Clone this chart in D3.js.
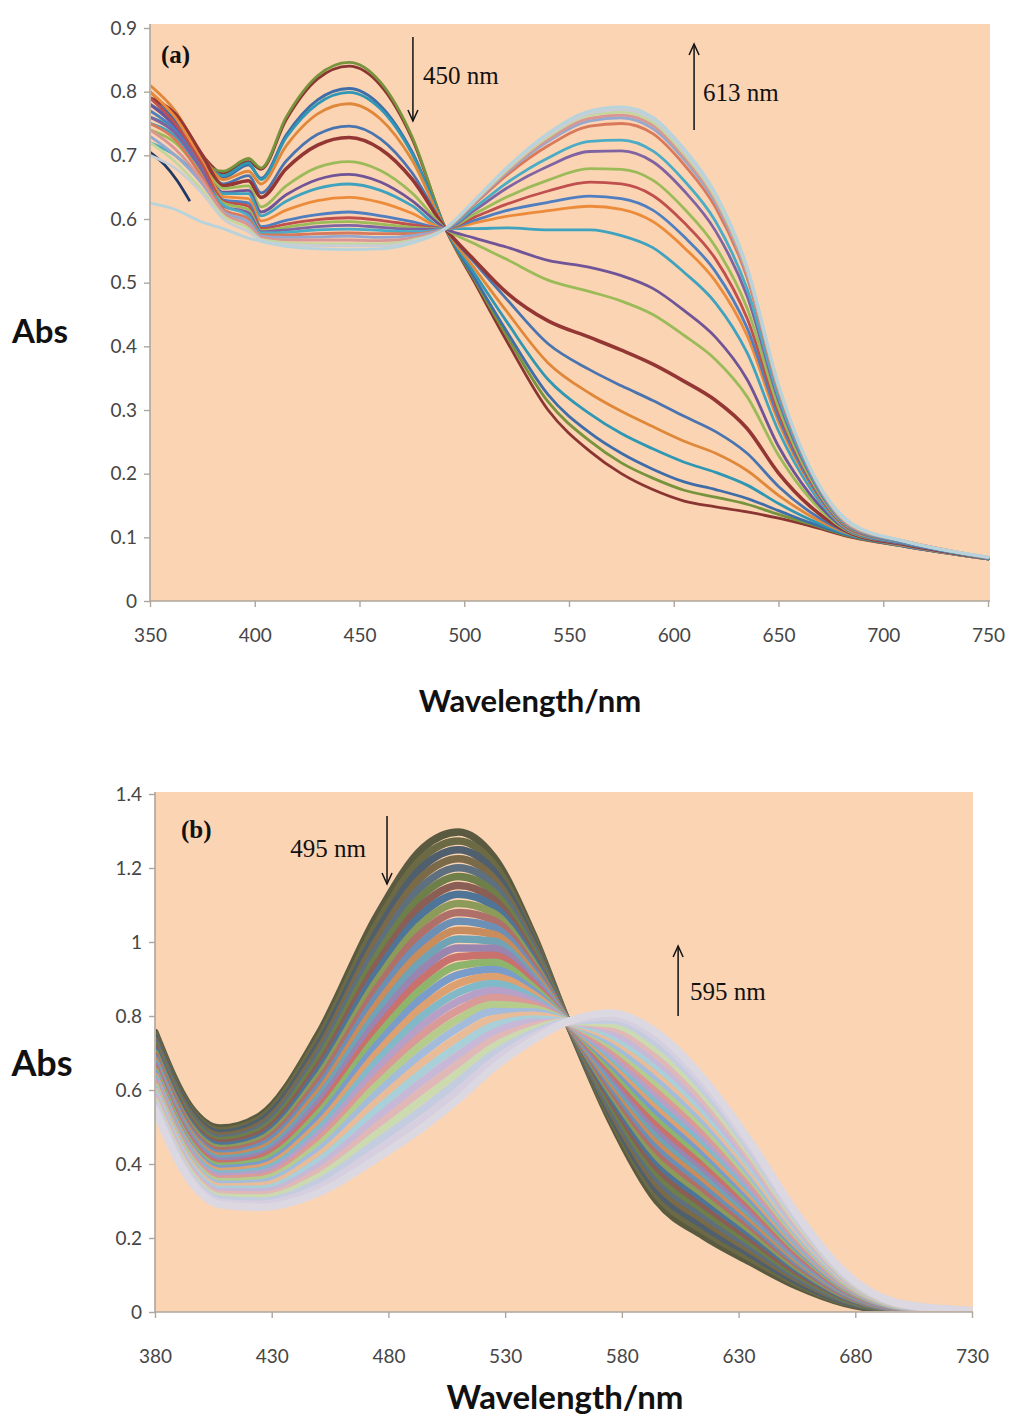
<!DOCTYPE html>
<html>
<head>
<meta charset="utf-8">
<script src="https://cdn.jsdelivr.net/npm/d3@7"></script>
<style>
  body { margin: 0; background: #ffffff; }
  svg { display: block; }
</style>
</head>
<body>
<svg id="fig" width="1010" height="1424"></svg>
<script>
// ---------- Panel (a): titration spectra, 350–750 nm ----------
const wavelengthsA = [350, 362, 375, 385, 397, 403, 415, 430, 445, 460, 475, 491, 505, 520, 540, 560, 575, 590, 605, 620, 635, 650, 665, 685, 710, 750];

const spectraA = [
  [0.80, 0.76, 0.70, 0.672, 0.69, 0.678, 0.756, 0.82, 0.84, 0.81, 0.727, 0.585, 0.50, 0.41, 0.30, 0.235, 0.20, 0.175, 0.157, 0.148, 0.14, 0.13, 0.118, 0.10, 0.086, 0.066],
  [0.78, 0.75, 0.69, 0.675, 0.695, 0.68, 0.76, 0.825, 0.846, 0.815, 0.73, 0.585, 0.504, 0.418, 0.313, 0.251, 0.217, 0.193, 0.174, 0.163, 0.152, 0.136, 0.121, 0.101, 0.086, 0.066],
  [0.79, 0.755, 0.695, 0.665, 0.685, 0.664, 0.732, 0.787, 0.805, 0.778, 0.706, 0.585, 0.507, 0.425, 0.324, 0.264, 0.232, 0.207, 0.187, 0.175, 0.161, 0.142, 0.123, 0.102, 0.086, 0.066],
  [0.76, 0.74, 0.69, 0.668, 0.688, 0.662, 0.728, 0.781, 0.799, 0.773, 0.703, 0.585, 0.514, 0.44, 0.348, 0.294, 0.263, 0.239, 0.218, 0.202, 0.182, 0.153, 0.128, 0.103, 0.087, 0.066],
  [0.81, 0.77, 0.70, 0.662, 0.675, 0.655, 0.715, 0.765, 0.781, 0.757, 0.693, 0.585, 0.522, 0.456, 0.374, 0.326, 0.298, 0.274, 0.251, 0.232, 0.205, 0.166, 0.134, 0.104, 0.087, 0.066],
  [0.78, 0.75, 0.69, 0.655, 0.668, 0.641, 0.691, 0.733, 0.746, 0.726, 0.673, 0.585, 0.531, 0.475, 0.404, 0.363, 0.338, 0.315, 0.29, 0.266, 0.232, 0.18, 0.14, 0.105, 0.088, 0.066],
  [0.79, 0.765, 0.70, 0.652, 0.66, 0.634, 0.679, 0.716, 0.728, 0.71, 0.663, 0.585, 0.535, 0.485, 0.44, 0.414, 0.394, 0.372, 0.345, 0.315, 0.271, 0.201, 0.149, 0.106, 0.089, 0.067],
  [0.77, 0.74, 0.685, 0.648, 0.652, 0.619, 0.652, 0.681, 0.69, 0.676, 0.641, 0.585, 0.561, 0.537, 0.504, 0.486, 0.471, 0.45, 0.417, 0.379, 0.321, 0.229, 0.161, 0.107, 0.09, 0.067],
  [0.78, 0.745, 0.68, 0.642, 0.645, 0.611, 0.638, 0.662, 0.67, 0.658, 0.629, 0.585, 0.57, 0.556, 0.535, 0.524, 0.511, 0.491, 0.456, 0.414, 0.348, 0.243, 0.168, 0.108, 0.09, 0.067],
  [0.75, 0.73, 0.675, 0.64, 0.64, 0.605, 0.628, 0.648, 0.655, 0.645, 0.621, 0.585, 0.585, 0.586, 0.583, 0.583, 0.574, 0.555, 0.516, 0.468, 0.39, 0.267, 0.178, 0.109, 0.091, 0.067],
  [0.80, 0.76, 0.69, 0.635, 0.632, 0.597, 0.614, 0.629, 0.634, 0.626, 0.609, 0.585, 0.594, 0.604, 0.613, 0.62, 0.615, 0.596, 0.555, 0.502, 0.417, 0.281, 0.184, 0.11, 0.092, 0.068],
  [0.77, 0.74, 0.68, 0.63, 0.625, 0.588, 0.598, 0.607, 0.611, 0.605, 0.596, 0.585, 0.598, 0.613, 0.626, 0.636, 0.632, 0.614, 0.572, 0.517, 0.429, 0.288, 0.187, 0.111, 0.092, 0.068],
  [0.79, 0.75, 0.685, 0.628, 0.62, 0.585, 0.592, 0.599, 0.602, 0.598, 0.591, 0.585, 0.603, 0.623, 0.644, 0.658, 0.655, 0.637, 0.594, 0.537, 0.444, 0.296, 0.191, 0.112, 0.093, 0.068],
  [0.74, 0.72, 0.67, 0.625, 0.615, 0.582, 0.587, 0.594, 0.596, 0.592, 0.587, 0.585, 0.608, 0.634, 0.661, 0.679, 0.678, 0.661, 0.616, 0.556, 0.46, 0.304, 0.194, 0.113, 0.093, 0.068],
  [0.76, 0.735, 0.675, 0.62, 0.61, 0.58, 0.583, 0.588, 0.59, 0.587, 0.584, 0.585, 0.614, 0.648, 0.683, 0.706, 0.707, 0.69, 0.644, 0.581, 0.479, 0.315, 0.199, 0.114, 0.093, 0.068],
  [0.72, 0.70, 0.66, 0.622, 0.605, 0.578, 0.579, 0.583, 0.584, 0.582, 0.58, 0.585, 0.618, 0.656, 0.696, 0.722, 0.724, 0.707, 0.66, 0.596, 0.49, 0.321, 0.202, 0.115, 0.093, 0.068],
  [0.75, 0.725, 0.665, 0.615, 0.60, 0.575, 0.575, 0.577, 0.578, 0.577, 0.577, 0.585, 0.624, 0.668, 0.715, 0.746, 0.75, 0.734, 0.685, 0.618, 0.508, 0.33, 0.206, 0.116, 0.094, 0.068],
  [0.73, 0.70, 0.655, 0.612, 0.595, 0.573, 0.571, 0.572, 0.573, 0.571, 0.574, 0.585, 0.626, 0.672, 0.722, 0.754, 0.759, 0.742, 0.693, 0.625, 0.513, 0.334, 0.207, 0.117, 0.094, 0.068],
  [0.74, 0.71, 0.66, 0.61, 0.59, 0.571, 0.567, 0.567, 0.567, 0.566, 0.57, 0.585, 0.627, 0.674, 0.725, 0.758, 0.763, 0.747, 0.697, 0.629, 0.516, 0.335, 0.208, 0.118, 0.094, 0.068],
  [0.72, 0.69, 0.645, 0.605, 0.585, 0.568, 0.563, 0.561, 0.561, 0.561, 0.567, 0.585, 0.628, 0.676, 0.729, 0.763, 0.768, 0.752, 0.702, 0.633, 0.52, 0.337, 0.209, 0.119, 0.094, 0.069],
  [0.70, 0.68, 0.64, 0.60, 0.58, 0.567, 0.56, 0.558, 0.558, 0.558, 0.565, 0.585, 0.629, 0.678, 0.732, 0.766, 0.772, 0.756, 0.706, 0.637, 0.522, 0.339, 0.209, 0.12, 0.094, 0.069],
  [0.625, 0.615, 0.595, 0.585, 0.57, 0.565, 0.557, 0.553, 0.552, 0.553, 0.562, 0.585, 0.63, 0.68, 0.735, 0.77, 0.776, 0.76, 0.71, 0.64, 0.525, 0.34, 0.21, 0.122, 0.094, 0.069]
];

// short trace recorded only at the start of the scan
const stubWavelengthsA = [350, 357, 363, 369];
const stubValuesA = [0.705, 0.685, 0.66, 0.628];

const xTicksA = [350, 400, 450, 500, 550, 600, 650, 700, 750];
const yTicksA = [0, 0.1, 0.2, 0.3, 0.4, 0.5, 0.6, 0.7, 0.8, 0.9];
const yTickLabelsA = ["0", "0.1", "0.2", "0.3", "0.4", "0.5", "0.6", "0.7", "0.8", "0.9"];

// ---------- Panel (b): titration spectra, 380–730 nm ----------
const wavelengthsB = [380, 395, 408, 425, 450, 475, 495, 510, 525, 542, 557, 575, 595, 615, 635, 655, 675, 700, 730];

const spectraB = [
  [0.755, 0.555, 0.497, 0.530, 0.750, 1.070, 1.255, 1.297, 1.230, 1.020, 0.780, 0.520, 0.300, 0.205, 0.135, 0.070, 0.024, 0.003, 0.000],
  [0.748, 0.548, 0.490, 0.522, 0.736, 1.048, 1.230, 1.273, 1.211, 1.011, 0.780, 0.530, 0.315, 0.219, 0.146, 0.077, 0.027, 0.004, 0.000],
  [0.741, 0.542, 0.483, 0.514, 0.721, 1.026, 1.205, 1.249, 1.192, 1.001, 0.780, 0.539, 0.330, 0.233, 0.157, 0.083, 0.030, 0.004, 0.000],
  [0.734, 0.535, 0.476, 0.505, 0.707, 1.005, 1.180, 1.225, 1.173, 0.992, 0.781, 0.549, 0.346, 0.248, 0.168, 0.090, 0.033, 0.005, 0.000],
  [0.727, 0.528, 0.469, 0.497, 0.693, 0.983, 1.154, 1.201, 1.154, 0.982, 0.781, 0.558, 0.361, 0.262, 0.178, 0.096, 0.035, 0.006, 0.000],
  [0.720, 0.522, 0.463, 0.489, 0.679, 0.961, 1.129, 1.177, 1.135, 0.973, 0.781, 0.568, 0.376, 0.276, 0.189, 0.103, 0.038, 0.006, 0.000],
  [0.713, 0.515, 0.456, 0.481, 0.664, 0.939, 1.104, 1.153, 1.116, 0.963, 0.781, 0.578, 0.391, 0.290, 0.200, 0.109, 0.041, 0.007, 0.000],
  [0.706, 0.508, 0.449, 0.472, 0.650, 0.917, 1.079, 1.129, 1.097, 0.954, 0.781, 0.587, 0.406, 0.304, 0.211, 0.116, 0.044, 0.007, 0.000],
  [0.699, 0.502, 0.442, 0.464, 0.636, 0.895, 1.054, 1.104, 1.078, 0.944, 0.781, 0.597, 0.421, 0.318, 0.222, 0.122, 0.047, 0.008, 0.001],
  [0.692, 0.495, 0.435, 0.456, 0.622, 0.874, 1.029, 1.080, 1.059, 0.935, 0.782, 0.606, 0.437, 0.333, 0.233, 0.129, 0.050, 0.009, 0.001],
  [0.685, 0.488, 0.428, 0.448, 0.607, 0.852, 1.003, 1.056, 1.040, 0.925, 0.782, 0.616, 0.452, 0.347, 0.243, 0.135, 0.053, 0.009, 0.001],
  [0.678, 0.482, 0.421, 0.439, 0.593, 0.830, 0.978, 1.032, 1.021, 0.916, 0.782, 0.626, 0.467, 0.361, 0.254, 0.142, 0.056, 0.010, 0.001],
  [0.671, 0.475, 0.414, 0.431, 0.579, 0.808, 0.953, 1.008, 1.002, 0.906, 0.782, 0.635, 0.482, 0.375, 0.265, 0.148, 0.058, 0.011, 0.001],
  [0.664, 0.468, 0.407, 0.423, 0.565, 0.786, 0.928, 0.984, 0.983, 0.897, 0.782, 0.645, 0.497, 0.389, 0.276, 0.155, 0.061, 0.011, 0.001],
  [0.657, 0.462, 0.400, 0.415, 0.550, 0.764, 0.903, 0.960, 0.964, 0.887, 0.782, 0.654, 0.512, 0.403, 0.287, 0.161, 0.064, 0.012, 0.001],
  [0.651, 0.455, 0.394, 0.407, 0.536, 0.743, 0.878, 0.936, 0.945, 0.878, 0.783, 0.664, 0.528, 0.418, 0.298, 0.168, 0.067, 0.013, 0.002],
  [0.644, 0.448, 0.387, 0.398, 0.522, 0.721, 0.852, 0.912, 0.926, 0.868, 0.783, 0.674, 0.543, 0.432, 0.308, 0.174, 0.070, 0.013, 0.002],
  [0.637, 0.442, 0.380, 0.390, 0.507, 0.699, 0.827, 0.888, 0.907, 0.859, 0.783, 0.683, 0.558, 0.446, 0.319, 0.181, 0.073, 0.014, 0.002],
  [0.630, 0.435, 0.373, 0.382, 0.493, 0.677, 0.802, 0.864, 0.888, 0.849, 0.783, 0.693, 0.573, 0.460, 0.330, 0.187, 0.076, 0.014, 0.002],
  [0.623, 0.428, 0.366, 0.374, 0.479, 0.655, 0.777, 0.840, 0.869, 0.840, 0.783, 0.702, 0.588, 0.474, 0.341, 0.194, 0.078, 0.015, 0.002],
  [0.616, 0.422, 0.359, 0.365, 0.465, 0.633, 0.752, 0.816, 0.850, 0.830, 0.783, 0.712, 0.603, 0.488, 0.352, 0.200, 0.081, 0.016, 0.002],
  [0.609, 0.415, 0.352, 0.357, 0.450, 0.612, 0.727, 0.792, 0.831, 0.821, 0.784, 0.722, 0.619, 0.503, 0.363, 0.207, 0.084, 0.016, 0.002],
  [0.602, 0.408, 0.345, 0.349, 0.436, 0.590, 0.701, 0.768, 0.812, 0.811, 0.784, 0.731, 0.634, 0.517, 0.373, 0.213, 0.087, 0.017, 0.002],
  [0.595, 0.402, 0.338, 0.341, 0.422, 0.568, 0.676, 0.743, 0.793, 0.802, 0.784, 0.741, 0.649, 0.531, 0.384, 0.220, 0.090, 0.018, 0.003],
  [0.588, 0.395, 0.331, 0.332, 0.408, 0.546, 0.651, 0.719, 0.774, 0.792, 0.784, 0.750, 0.664, 0.545, 0.395, 0.226, 0.093, 0.018, 0.003],
  [0.581, 0.388, 0.325, 0.324, 0.393, 0.524, 0.626, 0.695, 0.755, 0.783, 0.784, 0.760, 0.679, 0.559, 0.406, 0.233, 0.096, 0.019, 0.003],
  [0.574, 0.382, 0.318, 0.316, 0.379, 0.502, 0.601, 0.671, 0.736, 0.773, 0.784, 0.770, 0.694, 0.573, 0.417, 0.239, 0.099, 0.019, 0.003],
  [0.567, 0.375, 0.311, 0.308, 0.365, 0.481, 0.576, 0.647, 0.717, 0.764, 0.785, 0.779, 0.710, 0.588, 0.428, 0.246, 0.101, 0.020, 0.003],
  [0.560, 0.368, 0.304, 0.299, 0.351, 0.459, 0.550, 0.623, 0.698, 0.754, 0.785, 0.789, 0.725, 0.602, 0.438, 0.252, 0.104, 0.021, 0.003],
  [0.553, 0.362, 0.297, 0.291, 0.336, 0.437, 0.525, 0.599, 0.679, 0.745, 0.785, 0.798, 0.740, 0.616, 0.449, 0.259, 0.107, 0.021, 0.003],
  [0.546, 0.355, 0.290, 0.283, 0.322, 0.415, 0.500, 0.575, 0.660, 0.735, 0.785, 0.808, 0.755, 0.630, 0.460, 0.265, 0.110, 0.022, 0.004]
];

const xTicksB = [380, 430, 480, 530, 580, 630, 680, 730];
const yTicksB = [0, 0.2, 0.4, 0.6, 0.8, 1.0, 1.2, 1.4];
const yTickLabelsB = ["0", "0.2", "0.4", "0.6", "0.8", "1", "1.2", "1.4"];

// ---------- styling ----------
const coloursA = [
  "#8b3533", "#77933c", "#3e6da8", "#2f97b4", "#e0883a", "#4a74b0",
  "#943634", "#9bbb59", "#6f5497", "#3fa3bf", "#ec8c3b", "#4f7fc0",
  "#c0504d", "#9bbb59", "#8064a2", "#4bacc6", "#d9795b", "#93a9cf",
  "#d99694", "#c3d69b", "#c9ced6", "#b7d3dc"
];
const coloursB = [
  "#5a5a40", "#6b6a45", "#4f5f6e", "#7a6a48", "#5e7080", "#6e7f4a",
  "#8a5e55", "#4e7598", "#8c9a5a", "#b0706a", "#6c8fb5", "#c98c5c",
  "#6fa3b5", "#9a84b0", "#c9716c", "#8fb56c", "#7a9ccb", "#dda070",
  "#82b9c9", "#b6a0c8", "#d99a98", "#b6cc8c", "#a4bcdc", "#e8bc98",
  "#a9cfd9", "#c6b8d6", "#e0b8b8", "#ccdab0", "#c4cce0", "#d6cfe0",
  "#dcd8e2"
];
const plotFill = "#fbd4b4";
const axisColour = "#aea69d";
const tickTextColour = "#464646";

const svg = d3.select("#fig");
svg.append("rect").attr("width", 1010).attr("height", 1424).attr("fill", "#ffffff");

function drawPanel(p) {
  const x = d3.scaleLinear().domain(p.xDomain).range(p.xRange);
  const y = d3.scaleLinear().domain(p.yDomain).range(p.yRange);
  const g = svg.append("g");

  const top = y(p.yDomain[1]);
  const bottom = y(p.yDomain[0]);
  g.append("rect")
    .attr("x", p.xRange[0]).attr("y", top - p.padTop)
    .attr("width", p.xRange[1] - p.xRange[0] + p.padRight)
    .attr("height", bottom - top + p.padTop)
    .attr("fill", plotFill);

  const clipId = "clip-" + p.id;
  svg.append("clipPath").attr("id", clipId)
    .append("rect")
    .attr("x", p.xRange[0] + 1).attr("y", top - p.padTop)
    .attr("width", p.xRange[1] - p.xRange[0] + p.padRight - 1)
    .attr("height", bottom - top + p.padTop - 1);

  const lines = g.append("g").attr("clip-path", `url(#${clipId})`);
  const line = d3.line()
    .x((d, i) => x(p.wavelengths[i]))
    .y(d => y(d))
    .curve(d3.curveMonotoneX);

  if (p.extra) p.extra(lines, x, y);

  lines.selectAll("path.spec")
    .data(p.spectra)
    .join("path")
    .attr("class", "spec")
    .attr("d", line)
    .attr("fill", "none")
    .attr("stroke", (d, i) => p.colours[i % p.colours.length])
    .attr("stroke-width", (d, i) => p.strokeWidth(i))
    .attr("stroke-linejoin", "round")
    .attr("stroke-linecap", "round");

  // axes
  const xAxis = g.append("g")
    .attr("transform", `translate(0,${bottom})`)
    .call(d3.axisBottom(x).tickValues(p.xTicks).tickSize(6).tickSizeOuter(0).tickPadding(p.xPad).tickFormat(d3.format("d")));
  const yAxis = g.append("g")
    .attr("transform", `translate(${p.xRange[0]},0)`)
    .call(d3.axisLeft(y).tickValues(p.yTicks).tickSize(6).tickSizeOuter(0).tickPadding(7)
      .tickFormat((d, i) => p.yTickLabels[i]));

  [xAxis, yAxis].forEach(a => {
    a.select(".domain").attr("stroke", axisColour).attr("stroke-width", 1.6);
    a.selectAll(".tick line").attr("stroke", axisColour).attr("stroke-width", 1.4);
    a.selectAll(".tick text")
      .attr("fill", tickTextColour)
      .style("font-family", "Lato, 'Open Sans', sans-serif")
      .style("font-size", "19px");
  });
  xAxis.select(".domain").attr("d", `M${p.xRange[0]},0H${p.xRange[1] + p.padRight}`);
  yAxis.select(".domain").attr("d", `M0,${bottom}V${top - p.padTop}`);

  // axis titles
  g.append("text")
    .attr("x", p.absPos[0]).attr("y", p.absPos[1])
    .attr("text-anchor", "middle")
    .style("font-family", "Lato, 'Open Sans', sans-serif")
    .style("font-weight", "bold").style("font-size", p.absSize + "px")
    .attr("fill", "#111")
    .text("Abs");
  g.append("text")
    .attr("x", p.xTitlePos[0]).attr("y", p.xTitlePos[1])
    .attr("text-anchor", "middle")
    .style("font-family", "Lato, 'Open Sans', sans-serif")
    .style("font-weight", "bold").style("font-size", p.xTitleSize + "px")
    .attr("fill", "#111")
    .text("Wavelength/nm");

  // panel letter
  g.append("text")
    .attr("x", p.letterPos[0]).attr("y", p.letterPos[1])
    .style("font-family", "'Liberation Serif', 'Times New Roman', serif")
    .style("font-weight", "bold").style("font-size", "25px")
    .attr("fill", "#111")
    .text(p.letter);

  // arrows marking the decreasing and increasing bands
  p.arrows.forEach(a => {
    const ax = x(a.at);
    const dir = a.y2 > a.y1 ? 1 : -1;
    g.append("line")
      .attr("x1", ax).attr("x2", ax).attr("y1", a.y1).attr("y2", a.y2)
      .attr("stroke", "#111").attr("stroke-width", 1.5);
    g.append("path")
      .attr("d", `M${ax - 5},${a.y2 - dir * 11}L${ax},${a.y2}L${ax + 5},${a.y2 - dir * 11}`)
      .attr("fill", "none").attr("stroke", "#111").attr("stroke-width", 1.5);
    g.append("text")
      .attr("x", a.labelX).attr("y", a.labelY)
      .attr("text-anchor", a.anchor)
      .style("font-family", "'Liberation Serif', 'Times New Roman', serif")
      .style("font-size", "25px")
      .attr("fill", "#111")
      .text(a.label);
  });
}

// panel (a)
drawPanel({
  id: "a",
  xDomain: [350, 750], xRange: [150, 988],
  yDomain: [0, 0.9], yRange: [601, 28],
  padTop: 4, padRight: 2,
  wavelengths: wavelengthsA, spectra: spectraA, colours: coloursA,
  strokeWidth: i => (i === 6 ? 3.6 : 2.8),
  xTicks: xTicksA, yTicks: yTicksA, yTickLabels: yTickLabelsA,
  xPad: 22,
  absPos: [40, 343], absSize: 33,
  xTitlePos: [530, 712], xTitleSize: 31,
  letter: "(a)", letterPos: [161, 63],
  arrows: [
    { at: 475.5, y1: 37, y2: 121, label: "450 nm", labelX: 423, labelY: 84, anchor: "start" },
    { at: 609.7, y1: 130, y2: 44, label: "613 nm", labelX: 703, labelY: 101, anchor: "start" }
  ],
  extra: (layer, x, y) => {
    layer.append("path")
      .datum(stubValuesA)
      .attr("d", d3.line().x((d, i) => x(stubWavelengthsA[i])).y(d => y(d)).curve(d3.curveMonotoneX))
      .attr("fill", "none").attr("stroke", "#1f3864").attr("stroke-width", 2.8);
  }
});

// panel (b)
drawPanel({
  id: "b",
  xDomain: [380, 730], xRange: [155, 972],
  yDomain: [0, 1.4], yRange: [1312, 794],
  padTop: 2, padRight: 1,
  wavelengths: wavelengthsB, spectra: spectraB, colours: coloursB,
  strokeWidth: () => 7.5,
  xTicks: xTicksB, yTicks: yTicksB, yTickLabels: yTickLabelsB,
  xPad: 32,
  absPos: [42, 1076], absSize: 36,
  xTitlePos: [565, 1409], xTitleSize: 33,
  letter: "(b)", letterPos: [181, 838],
  arrows: [
    { at: 479.4, y1: 816, y2: 884, label: "495 nm", labelX: 366, labelY: 857, anchor: "end" },
    { at: 604.1, y1: 1016, y2: 946, label: "595 nm", labelX: 690, labelY: 1000, anchor: "start" }
  ]
});
</script>
</body>
</html>
